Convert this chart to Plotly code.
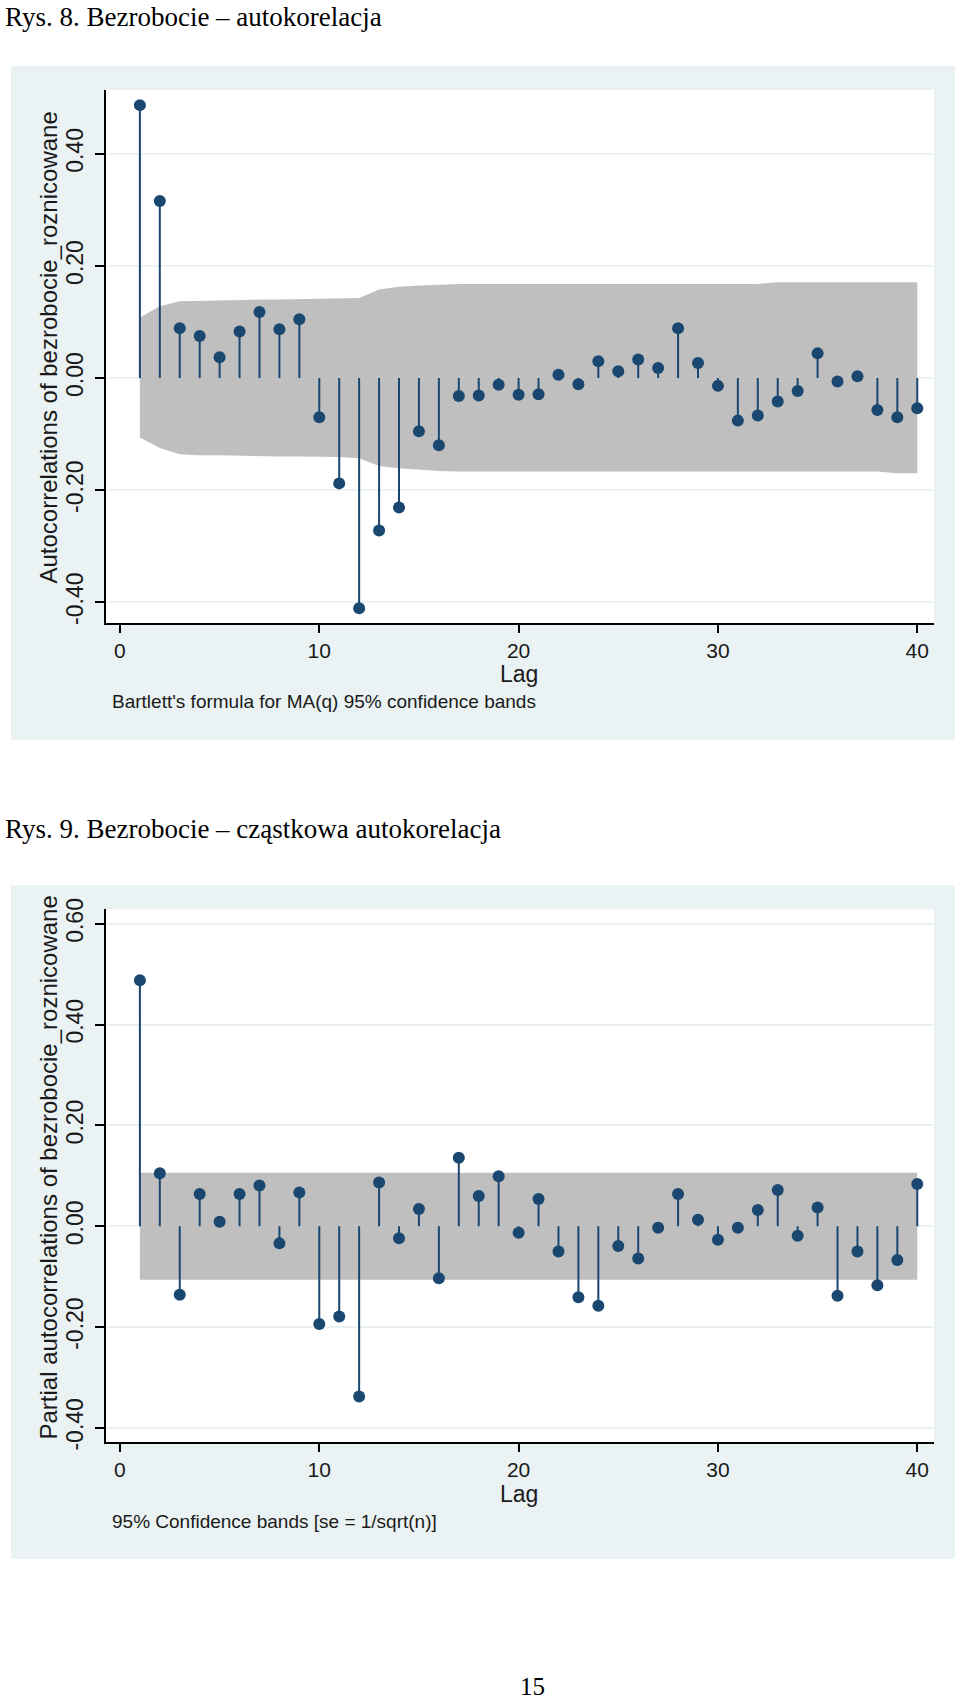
import plotly.graph_objects as go

W, H = 960, 1701

# ---------------- data ----------------
lags = list(range(1, 41))

acf = [0.487, 0.316, 0.089, 0.075, 0.037, 0.083, 0.118, 0.087, 0.105, -0.070,
       -0.188, -0.411, -0.272, -0.231, -0.095, -0.120, -0.032, -0.031, -0.012, -0.030,
       -0.029, 0.006, -0.011, 0.030, 0.012, 0.033, 0.018, 0.089, 0.027, -0.014,
       -0.076, -0.067, -0.042, -0.023, 0.044, -0.006, 0.003, -0.057, -0.070, -0.054]

acf_band_upper = [0.108, 0.128, 0.137, 0.138, 0.138, 0.139, 0.140, 0.140, 0.141, 0.142,
                  0.142, 0.143, 0.158, 0.163, 0.165, 0.167, 0.168, 0.168, 0.168, 0.168,
                  0.168, 0.168, 0.168, 0.168, 0.168, 0.168, 0.168, 0.168, 0.168, 0.168,
                  0.168, 0.168, 0.171, 0.171, 0.171, 0.171, 0.171, 0.171, 0.171, 0.171]
acf_band_lower = [-0.106, -0.125, -0.136, -0.138, -0.138, -0.139, -0.139, -0.140, -0.140, -0.140,
                  -0.141, -0.143, -0.157, -0.161, -0.164, -0.166, -0.167, -0.167, -0.167, -0.167,
                  -0.167, -0.167, -0.167, -0.167, -0.167, -0.167, -0.167, -0.167, -0.167, -0.167,
                  -0.167, -0.167, -0.167, -0.167, -0.167, -0.167, -0.167, -0.167, -0.170, -0.170]

pacf = [0.488, 0.105, -0.136, 0.064, 0.009, 0.064, 0.081, -0.034, 0.067, -0.194,
        -0.179, -0.338, 0.087, -0.024, 0.034, -0.103, 0.136, 0.060, 0.099, -0.013,
        0.054, -0.050, -0.141, -0.158, -0.039, -0.064, -0.003, 0.064, 0.013, -0.027,
        -0.003, 0.032, 0.072, -0.019, 0.037, -0.138, -0.050, -0.117, -0.067, 0.084]
pacf_band = 0.106

x_ticks = [0, 10, 20, 30, 40]
acf_y_ticks = [-0.4, -0.2, 0.0, 0.2, 0.4]
pacf_y_ticks = [-0.4, -0.2, 0.0, 0.2, 0.4, 0.6]

title1 = "Rys. 8. Bezrobocie \u2013 autokorelacja"
title2 = "Rys. 9. Bezrobocie \u2013 cz\u0105stkowa autokorelacja"
ytitle1 = "Autocorrelations of bezrobocie_roznicowane"
ytitle2 = "Partial autocorrelations of bezrobocie_roznicowane"
note1 = "Bartlett's formula for MA(q) 95% confidence bands"
note2 = "95% Confidence bands [se = 1/sqrt(n)]"
page_no = "15"

# ---------------- style ----------------
NAVY = "#1A476F"
BAND = "#BFBFBF"
PANEL = "#EAF2F3"
GRID = "#EAF2F3"
TXT = "#1a1a1a"
SANS = "Liberation Sans, Arial, sans-serif"
SERIF = "Liberation Serif, Times New Roman, serif"


def px_x(p):
    return p / W


def px_y(p):
    return 1 - p / H


fig = go.Figure()


def add_chart(xa, ya, vals, up, lo):
    # band
    fig.add_trace(go.Scatter(x=lags, y=lo, mode="lines", line=dict(width=0, color=BAND),
                             xaxis=xa, yaxis=ya, showlegend=False, hoverinfo="skip"))
    fig.add_trace(go.Scatter(x=lags, y=up, mode="lines", line=dict(width=0, color=BAND),
                             fill="tonexty", fillcolor=BAND,
                             xaxis=xa, yaxis=ya, showlegend=False, hoverinfo="skip"))
    # stems
    sx, sy = [], []
    for k, v in zip(lags, vals):
        sx += [k, k, None]
        sy += [0, v, None]
    fig.add_trace(go.Scatter(x=sx, y=sy, mode="lines", line=dict(color=NAVY, width=2),
                             xaxis=xa, yaxis=ya, showlegend=False, hoverinfo="skip"))
    # markers
    fig.add_trace(go.Scatter(x=lags, y=vals, mode="markers",
                             marker=dict(color=NAVY, size=12, line=dict(width=0)),
                             xaxis=xa, yaxis=ya, showlegend=False))


add_chart("x", "y", acf, acf_band_upper, acf_band_lower)
add_chart("x2", "y2", pacf, [pacf_band] * len(lags), [-pacf_band] * len(lags))

xdom = [px_x(106), px_x(934)]
common_x = dict(range=[-0.70, 40.84], tickvals=x_ticks, ticks="outside", ticklen=8,
                tickwidth=1.5, tickcolor="#000", showline=True, linecolor="#000", linewidth=1.8,
                showgrid=False, zeroline=False, tickfont=dict(family=SANS, size=21, color=TXT),
                fixedrange=True, automargin=False)
common_y = dict(ticks="outside", ticklen=9, tickwidth=1.5, tickcolor="#000", showline=True,
                linecolor="#000", linewidth=1.8, showgrid=True, gridcolor=GRID, gridwidth=1.5,
                zeroline=False, tickangle=-90, ticklabelstandoff=3,
                tickfont=dict(family=SANS, size=23, color=TXT), fixedrange=True,
                automargin=False)

fig.update_layout(
    width=W, height=H,
    margin=dict(l=0, r=0, t=0, b=0, pad=0, autoexpand=False),
    paper_bgcolor="white", plot_bgcolor="rgba(0,0,0,0)",
    xaxis=dict(domain=xdom, anchor="y", **common_x),
    yaxis=dict(domain=[px_y(623.3), px_y(90)], anchor="x", range=[-0.4377, 0.514],
               tickvals=acf_y_ticks, ticktext=[f"{v:.2f}" for v in acf_y_ticks], **common_y),
    xaxis2=dict(domain=xdom, anchor="y2", **common_x),
    yaxis2=dict(domain=[px_y(1442.3), px_y(909.3)], anchor="x2", range=[-0.4288, 0.629],
                tickvals=pacf_y_ticks, ticktext=[f"{v:.2f}" for v in pacf_y_ticks], **common_y),
    showlegend=False,
)

shapes = []
for (top, bot, ptop, pbot) in [(66, 740, 90, 623.3), (885, 1559, 909.3, 1442.3)]:
    shapes.append(dict(type="rect", xref="paper", yref="paper", x0=px_x(11), x1=px_x(955),
                       y0=px_y(bot), y1=px_y(top), fillcolor=PANEL, line=dict(width=0),
                       layer="below"))
    shapes.append(dict(type="rect", xref="paper", yref="paper", x0=px_x(106), x1=px_x(934),
                       y0=px_y(pbot), y1=px_y(ptop), fillcolor="white", line=dict(width=0),
                       layer="below"))
fig.update_layout(shapes=shapes)

ann = []


def text(t, x, y, size, family=SANS, xanchor="center", angle=0, yanchor="middle"):
    ann.append(dict(text=t, xref="paper", yref="paper", x=px_x(x), y=px_y(y),
                    xanchor=xanchor, yanchor=yanchor, showarrow=False, textangle=angle,
                    font=dict(family=family, size=size, color="#000" if family == SERIF else TXT)))


text(title1, 3, 0, 27, SERIF, "left", yanchor="top")
text(title2, 3, 829, 27, SERIF, "left")
text(page_no, 532, 1686, 25, SERIF)
text(ytitle1, 48, 347.5, 24, angle=-90)
text(ytitle2, 48, 1167.5, 24, angle=-90)
text("Lag", 519, 674, 23)
text("Lag", 519, 1494, 23)
text(note1, 110, 701, 19, xanchor="left")
text(note2, 110, 1521, 19, xanchor="left")
fig.update_layout(annotations=ann)

fig.write_html(
    "out.html",
    config={"displayModeBar": False},
    post_script=("var d=document.getElementById('{plot_id}');"
                 "d.style.position='fixed';d.style.top='0px';d.style.left='0px';"
                 "document.body.style.margin='0';document.body.style.padding='0';"),
)
